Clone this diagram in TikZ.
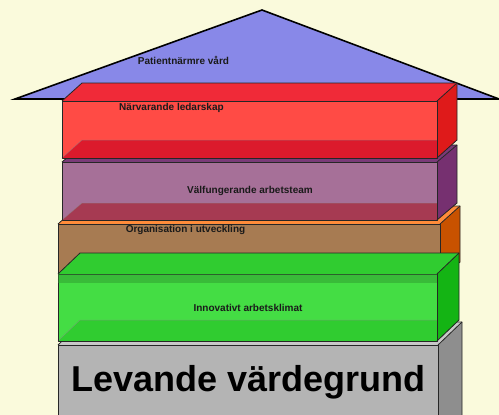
\documentclass[tikz,border=0pt]{standalone}
\usepackage{fontspec}
\setmainfont{Liberation Sans}
\definecolor{bgc}{HTML}{FAFADC}
\definecolor{roofc}{HTML}{8888E8}
\definecolor{redF}{HTML}{FF4B45}
\definecolor{redT}{HTML}{F02A38}
\definecolor{redR}{HTML}{DF1A1A}
\definecolor{redB}{HTML}{DC1A2C}
\definecolor{purF}{HTML}{A67098}
\definecolor{purT}{HTML}{7A3A78}
\definecolor{purR}{HTML}{763070}
\definecolor{purB}{HTML}{A63A52}
\definecolor{broF}{HTML}{A77B52}
\definecolor{broT}{HTML}{FF8C3A}
\definecolor{broR}{HTML}{C85200}
\definecolor{broB}{HTML}{A77B52}
\definecolor{greF}{HTML}{44DD44}
\definecolor{greT}{HTML}{30CC30}
\definecolor{greR}{HTML}{14B414}
\definecolor{greB}{HTML}{30CC30}
\definecolor{graF}{HTML}{B4B4B4}
\definecolor{graT}{HTML}{C8C8C8}
\definecolor{graR}{HTML}{8E8E8E}
\definecolor{graB}{HTML}{B4B4B4}
\definecolor{txtc}{HTML}{1A1A1A}
\newcommand\layerbox[7]{%
  \fill[#7F] (#1,#2) rectangle (#3,#4);
  \fill[#7B] (#1,#4) -- (#1+#5,#4-#6) -- (#3+#5,#4-#6) -- (#3,#4) -- cycle;
  \draw[inner] (#1,#4) -- (#1+#5,#4-#6) -- (#3+#5,#4-#6);
  \fill[#7T] (#1,#2) -- (#1+#5,#2-#6) -- (#3+#5,#2-#6) -- (#3,#2) -- cycle;
  \fill[#7R] (#3,#2) -- (#3+#5,#2-#6) -- (#3+#5,#4-#6) -- (#3,#4) -- cycle;
  \draw[edge] (#1,#2) rectangle (#3,#4);
  \draw[edge] (#1,#2) -- (#1+#5,#2-#6) -- (#3+#5,#2-#6) -- (#3+#5,#4-#6) -- (#3,#4);
  \draw[edge] (#3,#2) -- (#3+#5,#2-#6);
}
\begin{document}
\begin{tikzpicture}[x=1pt,y=-1pt,
  edge/.style={draw=black!85,line width=0.8pt,line join=round},
  inner/.style={draw=black!45,line width=0.5pt,opacity=0.6},
  lbl/.style={font=\bfseries\fontsize{10}{12}\selectfont,text=txtc,inner sep=0pt},
  big/.style={font=\bfseries\fontsize{36}{40}\selectfont,text=black,inner sep=0pt}]
\fill[bgc] (0,0) rectangle (499,415);
\useasboundingbox (0,0) rectangle (499,415);
% roof
\filldraw[fill=roofc,draw=black,line width=1.6pt,line join=miter] (15,99) -- (262,10) -- (499,99) -- cycle;
% grey base
\layerbox{58}{345}{438}{440}{24}{23}{gra}
% brown
\layerbox{58}{224}{440}{280}{20}{18}{bro}
% green
\layerbox{58}{274}{437}{341}{22}{21}{gre}
\fill[black!30!greF,opacity=0.5] (58.4,274.4) rectangle (436.6,283);
% purple
\layerbox{62}{162}{437}{220}{20}{17}{pur}
% red
\layerbox{62}{101}{437}{158}{20}{18}{red}
% labels
\node[lbl] (roofl) at (183.5,60) {Patientnärmre vård};
\node[lbl] (redl) at (171.5,108) {Närvarande ledarskap};
\node[lbl] (purl) at (250,191) {Välfungerande arbetsteam};
\node[lbl] (brol) at (185.5,230) {Organisation i utveckling};
\node[lbl] (grel) at (248,308) {Innovativt arbetsklimat};
\node[big] (gral) at (248.5,382) {Levande värdegrund};
\end{tikzpicture}
\end{document}
